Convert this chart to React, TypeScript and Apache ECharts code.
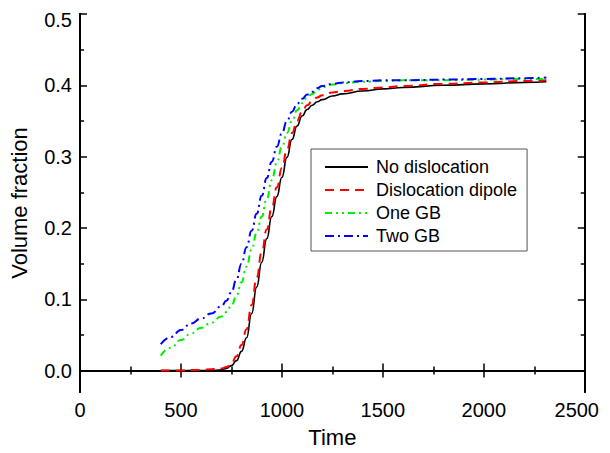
import React, { useEffect, useRef } from "react";
import * as echarts from "echarts";

const time = [400, 450, 500, 550, 600, 650, 700, 725, 750, 775, 800, 825, 850, 875, 900, 925, 950, 975, 1000, 1025, 1050, 1075, 1100, 1125, 1150, 1175, 1200, 1250, 1300, 1400, 1500, 1600, 1800, 2000, 2200, 2310];
const noDislocation = [0, 0, 0, 0, 0, 0, 0.001, 0.003, 0.007, 0.014, 0.027, 0.046, 0.080, 0.117, 0.152, 0.185, 0.216, 0.244, 0.271, 0.299, 0.324, 0.343, 0.357, 0.366, 0.372, 0.377, 0.380, 0.385, 0.388, 0.392, 0.395, 0.397, 0.400, 0.402, 0.404, 0.405];
const dislocationDipole = [0, 0, 0, 0.001, 0.001, 0.002, 0.003, 0.005, 0.010, 0.020, 0.036, 0.058, 0.092, 0.130, 0.166, 0.198, 0.229, 0.257, 0.284, 0.310, 0.333, 0.350, 0.363, 0.372, 0.378, 0.383, 0.386, 0.390, 0.392, 0.395, 0.397, 0.399, 0.402, 0.404, 0.406, 0.407];
const oneGB = [0.021, 0.032, 0.043, 0.052, 0.060, 0.067, 0.076, 0.082, 0.091, 0.105, 0.124, 0.146, 0.170, 0.193, 0.216, 0.241, 0.267, 0.292, 0.314, 0.333, 0.350, 0.365, 0.375, 0.383, 0.388, 0.393, 0.397, 0.401, 0.403, 0.405, 0.406, 0.407, 0.407, 0.408, 0.409, 0.409];
const twoGB = [0.037, 0.047, 0.057, 0.066, 0.073, 0.080, 0.090, 0.098, 0.110, 0.128, 0.150, 0.173, 0.196, 0.220, 0.245, 0.270, 0.293, 0.314, 0.333, 0.350, 0.363, 0.374, 0.381, 0.387, 0.391, 0.396, 0.399, 0.402, 0.404, 0.406, 0.407, 0.407, 0.408, 0.409, 0.410, 0.411];

const yMajorTicks = [0, 0.1, 0.2, 0.3, 0.4, 0.5];
const yMinorTicks = [0.05, 0.15, 0.25, 0.35, 0.45];

const FONT = "Liberation Sans, Arial, sans-serif";

export default function App() {
  const ref = useRef<HTMLDivElement>(null);
  useEffect(() => {
    if (!ref.current) return;
    const chart = echarts.init(ref.current, null, { renderer: "svg" });
    const pair = (vals: number[]) => time.map((t, i) => [t, vals[i]]);
    const axisLine = { show: true, lineStyle: { color: "#000", width: 2 } };
    const xBase = {
      type: "value",
      min: 0,
      max: 2500,
      interval: 500,
      axisLine,
      splitLine: { show: false },
      axisTick: { show: true, inside: true, length: 7, lineStyle: { color: "#000", width: 1.5 } },
      minorTick: { show: true, splitNumber: 2, length: 4, lineStyle: { color: "#000", width: 1.5 } },
    };
    const yBase = {
      type: "value",
      min: -0.03,
      max: 0.5,
      axisLine,
      splitLine: { show: false },
    };
    const majorTick = { show: true, inside: true, length: 7, customValues: yMajorTicks, lineStyle: { color: "#000", width: 1.5 } };
    const minorTickY = { show: true, inside: true, length: 4, customValues: yMinorTicks, lineStyle: { color: "#000", width: 1.5 } };
    const mk = (name: string, vals: number[], color: string, type: any, width: number) => ({
      name,
      type: "line",
      data: pair(vals),
      xAxisIndex: 0,
      yAxisIndex: 0,
      symbol: "none",
      showSymbol: false,
      smooth: 0.5,
      smoothMonotone: "x",
      lineStyle: { color, type, width },
      itemStyle: { color },
    });
    const lblStyle = { fontFamily: FONT, fontSize: 20, color: "#000" };
    chart.setOption({
      animation: false,
      backgroundColor: "#fff",
      grid: { left: 80, top: 14, right: 16, bottom: 60, containLabel: false },
      legend: {
        orient: "vertical",
        left: 311,
        top: 149,
        padding: [9, 10, 6, 13],
        itemWidth: 43,
        itemHeight: 14,
        itemGap: 5,
        borderColor: "#555",
        borderWidth: 1,
        backgroundColor: "#fff",
        itemStyle: { opacity: 0, borderWidth: 0 },
        textStyle: { fontFamily: FONT, fontSize: 18, color: "#000", lineHeight: 18, padding: [0, 0, 0, 3] },
        data: ["No dislocation", "Dislocation dipole", "One GB", "Two GB"],
      },
      xAxis: [
        {
          ...xBase,
          position: "bottom",
          axisLabel: {
            show: true,
            ...lblStyle,
            margin: 8,
            formatter: (v: number) => (v === 2500 ? "{last|" + v + "}{gap|}" : String(v)),
            rich: { last: { ...lblStyle }, gap: { ...lblStyle, width: 16 } },
          },
          name: "Time",
          nameLocation: "middle",
          nameGap: 34,
          nameTextStyle: { fontFamily: FONT, fontSize: 22, color: "#000" },
        },
        {
          ...xBase,
          position: "top",
          axisLabel: { show: false },
        },
      ],
      yAxis: [
        {
          ...yBase,
          position: "left",
          axisTick: majorTick,
          axisLabel: {
            show: true,
            customValues: yMajorTicks,
            formatter: (v: number) => (v > 0.45 ? "{top|" + v.toFixed(1) + "}" : v.toFixed(1)),
            ...lblStyle,
            margin: 8,
            rich: { top: { ...lblStyle, padding: [12, 0, 0, 0] } },
          },
          name: "Volume fraction",
          nameLocation: "middle",
          nameGap: 50,
          nameTextStyle: { fontFamily: FONT, fontSize: 22, color: "#000" },
        },
        { ...yBase, position: "left", axisTick: minorTickY, axisLabel: { show: false } },
        { ...yBase, position: "right", axisTick: majorTick, axisLabel: { show: false } },
        { ...yBase, position: "right", axisTick: minorTickY, axisLabel: { show: false } },
      ],
      series: [
        mk("No dislocation", noDislocation, "#000000", "solid", 1.6),
        mk("Dislocation dipole", dislocationDipole, "#ff0000", [9, 6], 2),
        mk("One GB", oneGB, "#00ee00", [7, 4, 2, 4, 2, 4], 2),
        mk("Two GB", twoGB, "#0000ff", [9, 4, 2, 4], 2),
      ],
    });
    return () => chart.dispose();
  }, []);
  return <div ref={ref} style={{ width: 610, height: 453, marginLeft: -8, marginTop: -8 }} />;
}
